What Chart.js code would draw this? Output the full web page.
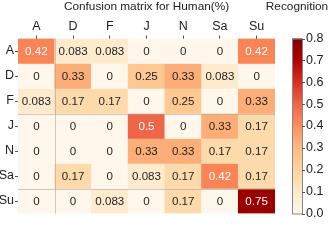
<!DOCTYPE html>
<html>
<head>
<meta charset="utf-8">
<script src="https://cdn.jsdelivr.net/npm/chart.js@4/dist/chart.umd.min.js"></script>
<style>
  html, body { margin: 0; padding: 0; background: #fff; }
  #wrap { width: 329px; height: 252px; }
</style>
</head>
<body>
<div id="wrap"><canvas id="cm"></canvas></div>
<script>
const emotions = ['A', 'D', 'F', 'J', 'N', 'Sa', 'Su'];
const rowA  = [0.42, 0.083, 0.083, 0, 0, 0, 0.42];
const rowD  = [0, 0.33, 0, 0.25, 0.33, 0.083, 0];
const rowF  = [0.083, 0.17, 0.17, 0, 0.25, 0, 0.33];
const rowJ  = [0, 0, 0, 0.5, 0, 0.33, 0.17];
const rowN  = [0, 0, 0, 0.33, 0.33, 0.17, 0.17];
const rowSa = [0, 0.17, 0, 0.083, 0.17, 0.42, 0.17];
const rowSu = [0, 0, 0.083, 0, 0.17, 0, 0.75];
const rows = [rowA, rowD, rowF, rowJ, rowN, rowSa, rowSu];
const cbTicks = [0, 0.1, 0.2, 0.3, 0.4, 0.5, 0.6, 0.7, 0.8];
const vmax = 0.8;

const FONT = '"Liberation Sans", Arial, sans-serif';

// OrRd colormap
const orrd = ['#fff7ec', '#fee8c8', '#fdd49e', '#fdbb84', '#fc8d59', '#ef6548', '#d7301f', '#b30000', '#7f0000'];
function hex(c) { return [1, 3, 5].map(i => parseInt(c.substr(i, 2), 16)); }
function cmap(v) {
    let t = Math.max(0, Math.min(1, v / vmax)) * (orrd.length - 1);
    let i = Math.min(Math.floor(t), orrd.length - 2);
    let f = t - i;
    const a = hex(orrd[i]), b = hex(orrd[i + 1]);
    const c = a.map((x, k) => Math.round(x + (b[k] - x) * f));
    return `rgb(${c[0]},${c[1]},${c[2]})`;
}

const datasets = rows.map((vals, r) => ({
    label: emotions[r],
    data: vals.map(() => [r, r + 1]),
    values: vals,
    backgroundColor: vals.map(cmap),
    borderWidth: 0,
    barPercentage: 1,
    categoryPercentage: 1
}));

// cell numbers, faint guide lines, colorbar and titles
const decor = {
    id: 'decor',
    afterDatasetsDraw(chart) {
        const ctx = chart.ctx;
        const ca = chart.chartArea;
        const xs = chart.scales.x, ys = chart.scales.y, cb = chart.scales.cb;
        ctx.save();
        // faint lines
        ctx.strokeStyle = 'rgba(170,160,150,0.55)';
        ctx.lineWidth = 1;
        const gx = Math.round((xs.getPixelForValue(0) + xs.getPixelForValue(1)) / 2) + 0.5;
        ctx.beginPath();
        ctx.moveTo(gx, ca.top); ctx.lineTo(gx, ca.bottom);
        [3, 6].forEach(v => {
            const gy = Math.round(ys.getPixelForValue(v)) + 0.5;
            ctx.moveTo(ca.left, gy); ctx.lineTo(ca.right, gy);
        });
        ctx.stroke();

        // numbers
        ctx.font = '11.6px ' + FONT;
        ctx.textAlign = 'center';
        ctx.textBaseline = 'middle';
        chart.data.datasets.forEach((ds, di) => {
            chart.getDatasetMeta(di).data.forEach((el, i) => {
                const v = ds.values[i];
                ctx.fillStyle = v > 0.4 ? '#ffffff' : '#262626';
                ctx.fillText(String(v), el.x, (el.y + el.base) / 2 + 1);
            });
        });

        // colorbar
        const bx = cb.left + 17, bw = 10;
        const top = cb.getPixelForValue(vmax), bot = cb.getPixelForValue(0);
        const grad = ctx.createLinearGradient(0, bot, 0, top);
        orrd.forEach((c, i) => grad.addColorStop(i / (orrd.length - 1), c));
        ctx.fillStyle = grad;
        ctx.fillRect(bx, top, bw, bot - top);
        ctx.strokeStyle = '#888';
        ctx.strokeRect(bx + 0.5, top + 0.5, bw, bot - top);
        ctx.strokeStyle = '#555';
        ctx.beginPath();
        cbTicks.forEach(t => {
            const py = Math.round(cb.getPixelForValue(t)) + 0.5;
            ctx.moveTo(bx + bw, py); ctx.lineTo(bx + bw + 3, py);
        });
        ctx.stroke();

        // titles
        ctx.fillStyle = '#222';
        ctx.font = '11.8px ' + FONT;
        ctx.textBaseline = 'alphabetic';
        ctx.fillText('Confusion matrix for Human(%)', (ca.left + ca.right) / 2, 10);
        ctx.fillText('Recognition', bx + bw / 2, 10);
        ctx.restore();
    }
};

const tickFont = { family: FONT, size: 12.5 };

new Chart(document.getElementById('cm'), {
    type: 'bar',
    data: { labels: emotions, datasets: datasets },
    options: {
        responsive: true,
        maintainAspectRatio: false,
        animation: false,
        layout: { padding: { top: 0, left: 0, right: 0, bottom: 8 } },
        plugins: { legend: { display: false }, tooltip: { enabled: false } },
        scales: {
            x: {
                position: 'top',
                stacked: true,
                offset: true,
                grid: { offset: false, drawOnChartArea: false, tickLength: 3, color: '#555' },
                border: { display: false },
                ticks: { font: tickFont, color: '#222', padding: 1, maxRotation: 0 },
                afterFit: s => { s.height = 32; }
            },
            y: {
                display: false,
                min: 0, max: 7,
                reverse: true
            },
            yl: {
                type: 'category',
                labels: emotions,
                position: 'left',
                offset: true,
                grid: { offset: false, drawOnChartArea: false, tickLength: 3, color: '#555' },
                border: { display: false },
                ticks: { font: tickFont, color: '#222', padding: 1 },
                afterFit: s => { s.width = 18; }
            },
            cb: {
                type: 'linear',
                position: 'right',
                min: 0, max: vmax,
                grid: { display: false, drawTicks: false },
                border: { display: false },
                afterBuildTicks: s => { s.ticks = cbTicks.map(v => ({ value: v })); },
                ticks: { font: tickFont, color: '#222', padding: 31, callback: v => v.toFixed(1) },
                afterFit: s => { s.width = 54; }
            }
        }
    },
    plugins: [decor]
});
</script>
</body>
</html>
